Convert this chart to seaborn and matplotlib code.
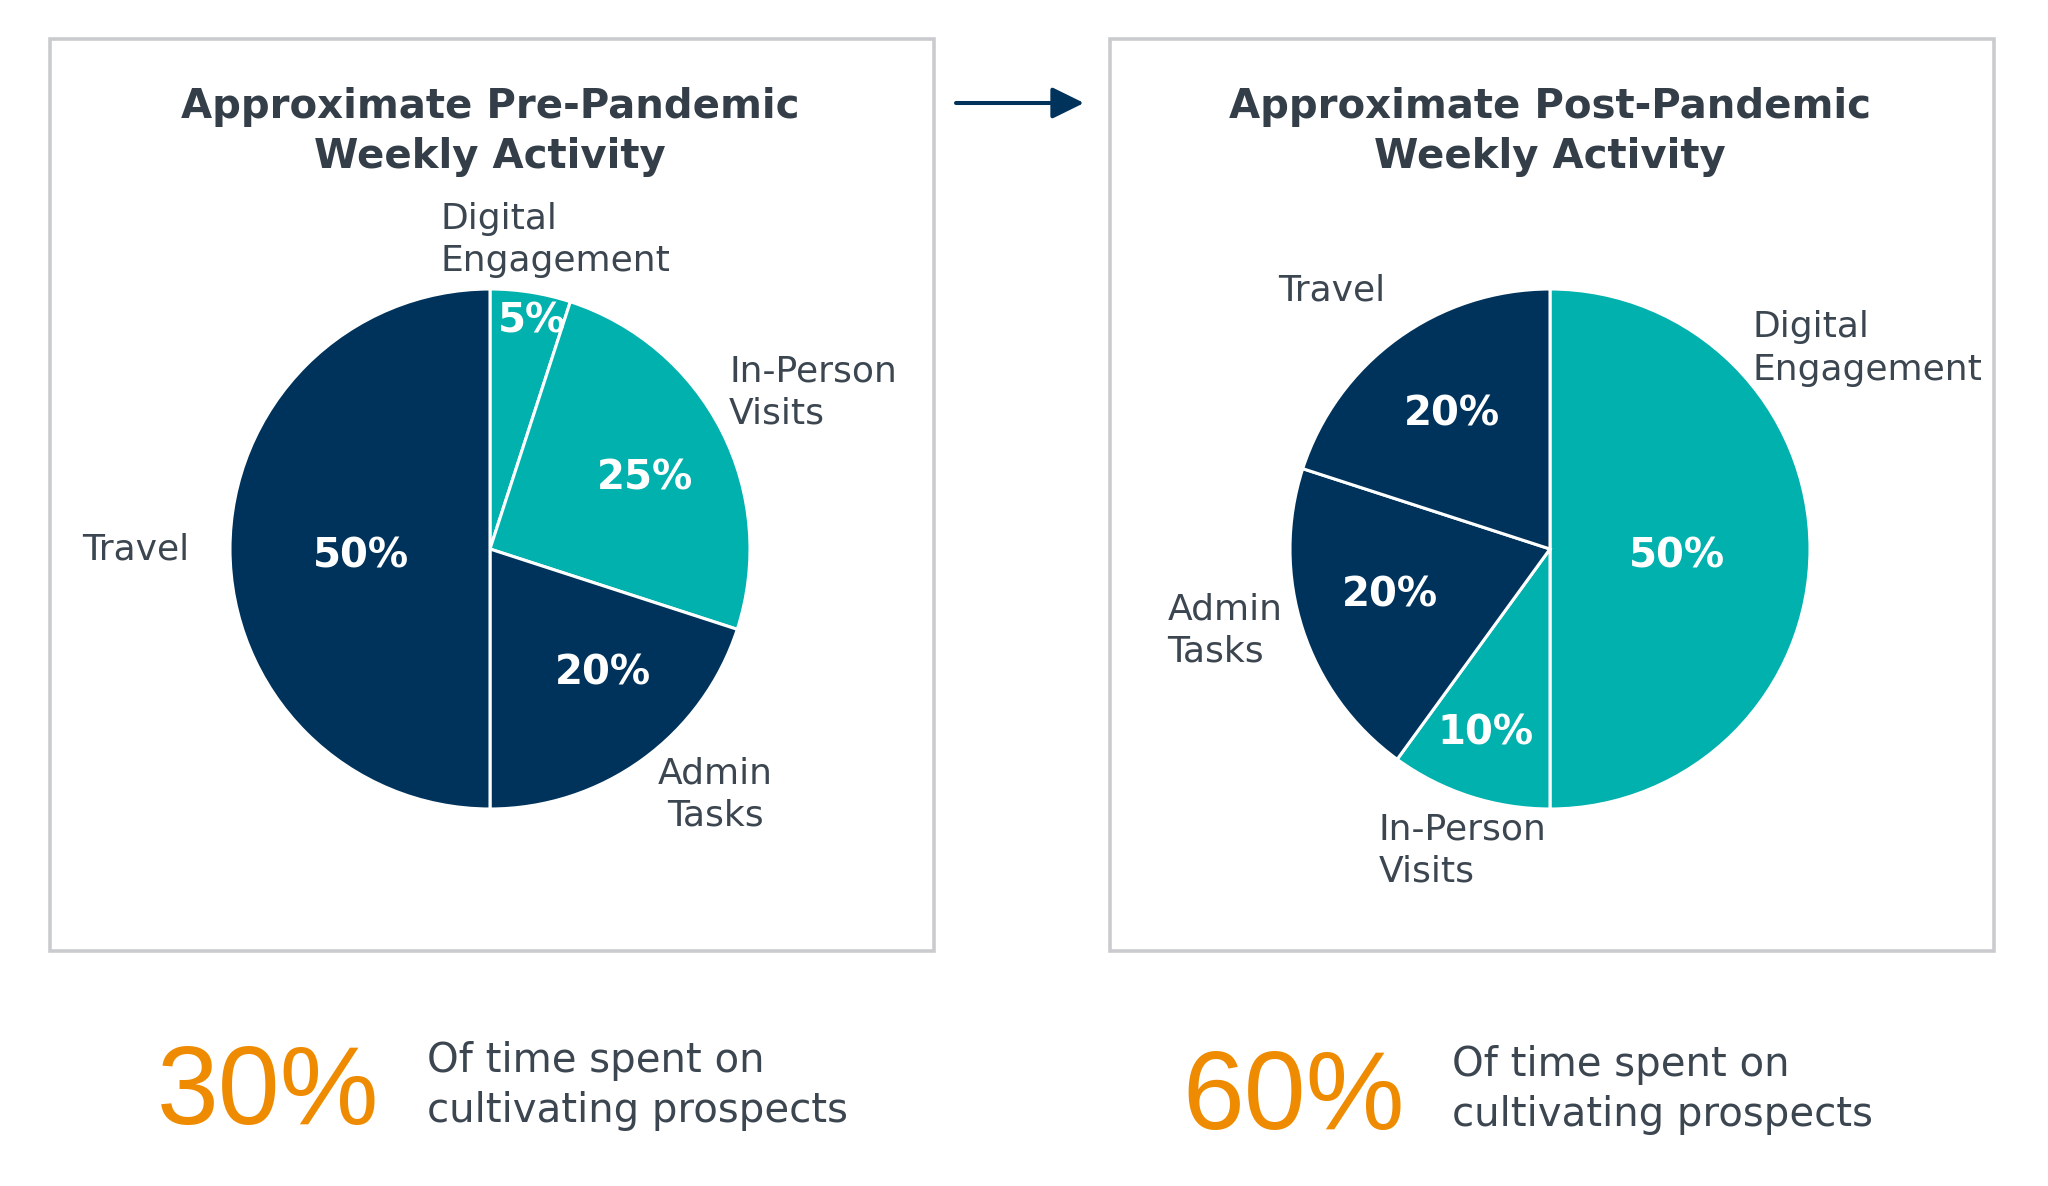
import numpy as np
import pandas as pd
import seaborn as sns
import matplotlib
matplotlib.use("Agg")
import matplotlib.pyplot as plt
from matplotlib.patches import Rectangle, FancyArrowPatch

# ---------------- data ----------------
categories_pre = ["Digital\nEngagement", "In-Person\nVisits", "Admin\nTasks", "Travel"]
values_pre = [5, 25, 20, 50]
categories_post = ["Digital\nEngagement", "In-Person\nVisits", "Admin\nTasks", "Travel"]
values_post = [50, 10, 20, 20]
titles = ["Approximate Pre-Pandemic\nWeekly Activity", "Approximate Post-Pandemic\nWeekly Activity"]
big_numbers = ["30%", "60%"]
caption = "Of time spent on\ncultivating prospects"

# ---------------- style ----------------
sns.set_theme(style="white")
plt.rcParams["font.family"] = ["DejaVu Sans"]

NAVY = "#00335b"
TEAL = "#00b1ae"
slice_colors = [TEAL, TEAL, NAVY, NAVY]
TITLE_C = "#343e48"
LABEL_C = "#3c4650"
ORANGE = "#ee8b00"
BOX_C = "#c9cbce"

W, H = 2048, 1186
fig = plt.figure(figsize=(W / 100, H / 100), dpi=100)
fig.patch.set_facecolor("white")

def fx(x):
    return x / W

def fy(y):
    return 1 - y / H

# boxes
for (x0, x1) in [(50, 934), (1110, 1994)]:
    fig.add_artist(Rectangle((fx(x0), fy(951)), fx(x1) - fx(x0), fy(39) - fy(951),
                             transform=fig.transFigure, fill=False,
                             edgecolor=BOX_C, linewidth=2.6))

# arrow
fig.add_artist(FancyArrowPatch((fx(956), fy(103)), (fx(1084), fy(103)),
                               transform=fig.transFigure,
                               arrowstyle="-|>,head_length=0.65,head_width=0.32",
                               mutation_scale=30, color=NAVY, linewidth=2.9,
                               shrinkA=0, shrinkB=0))

# pie geometry (pixels)
R = 260
HALF = 380
L = HALF / R

pie_specs = [
    dict(cx=490, cy=549, cats=categories_pre, vals=values_pre,
         pct_r=[0.89, 0.655, 0.645, 0.497],
         pct_dang=[-1.4, -2.7, 6.3, 3.5],
         lab_pos=[(-0.191, 1.188, "left", "left"), (0.920, 0.603, "left", "left"),
                  (0.866, -0.945, "center", "center"), (-1.568, 0.0, "left", "left")],
         title_x=490),
    dict(cx=1550, cy=549, cats=categories_post, vals=values_post,
         pct_r=[0.49, 0.75, 0.64, 0.64],
         pct_dang=[-3.2, -1.2, -1.6, 0.2],
         lab_pos=[(0.779, 0.771, "left", "left"), (-0.658, -1.161, "left", "left"),
                  (-1.472, -0.312, "left", "left"), (-1.045, 0.995, "left", "left")],
         title_x=1550),
]

for i, spec in enumerate(pie_specs):
    ax = fig.add_axes([fx(spec["cx"] - HALF), fy(spec["cy"] + HALF), 2 * HALF / W, 2 * HALF / H])
    ax.axis("off")
    df = pd.DataFrame({"cat": spec["cats"], "val": spec["vals"]})
    wedges, _ = ax.pie(df["val"], colors=slice_colors, startangle=90, counterclock=False,
                       radius=1.0, wedgeprops=dict(edgecolor="white", linewidth=2.2))
    ax.set_xlim(-L, L)
    ax.set_ylim(-L, L)
    ax.set_aspect("equal")
    for w, v, r, da in zip(wedges, df["val"], spec["pct_r"], spec["pct_dang"]):
        mid = np.deg2rad((w.theta1 + w.theta2) / 2 + da)
        ax.text(r * np.cos(mid), r * np.sin(mid), f"{v}%", ha="center", va="center",
                color="white", fontsize=29, fontweight="bold")
    for cat, (lx, ly, ha, ma) in zip(df["cat"], spec["lab_pos"]):
        ax.text(lx, ly, cat, ha=ha, va="center", multialignment=ma,
                color=LABEL_C, fontsize=26, linespacing=1.3)
    fig.text(fx(spec["title_x"]), fy(132), titles[i], ha="center", va="center",
             fontsize=29, fontweight="bold", color=TITLE_C, linespacing=1.3)

# bottom callouts
callouts = [dict(nx=157, nb=1124, tx=427, ty=1086), dict(nx=1182, nb=1129, tx=1452, ty=1090)]
for num, c in zip(big_numbers, callouts):
    fig.text(fx(c["nx"]), fy(c["nb"]), num, ha="left", va="baseline",
             fontsize=80, color=ORANGE, family=["Liberation Sans", "DejaVu Sans"])
    fig.text(fx(c["tx"]), fy(c["ty"]), caption, ha="left", va="center",
             fontsize=29, color=LABEL_C, linespacing=1.35)

fig.savefig("out.png", dpi=100, facecolor="white")
